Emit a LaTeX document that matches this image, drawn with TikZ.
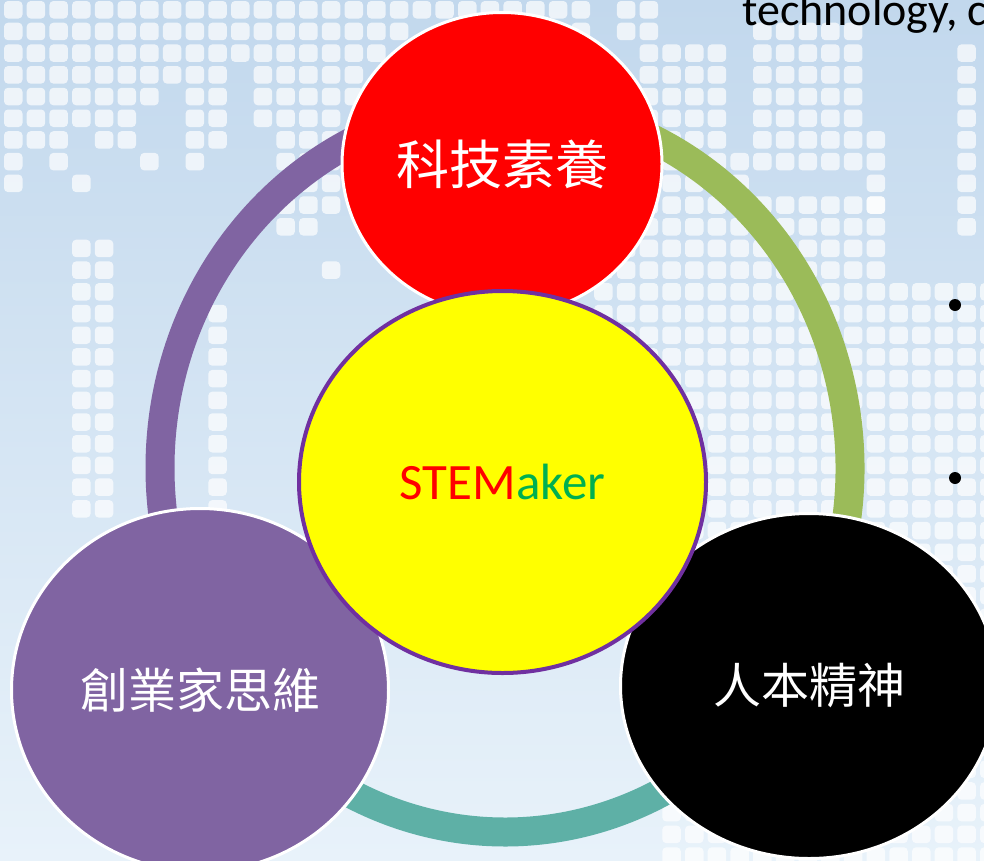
\documentclass[tikz,border=0pt]{standalone}
\usepackage{fontspec}
\setmainfont{Carlito}
\newfontfamily\cjk{Noto Sans CJK TC}
\usetikzlibrary{shapes.geometric}

\definecolor{bgtop}{RGB}{194,216,237}
\definecolor{bgbot}{RGB}{232,242,250}
\definecolor{ringpurple}{RGB}{128,100,162}
\definecolor{ringgreen}{RGB}{155,187,89}
\definecolor{ringteal}{RGB}{94,176,166}
\definecolor{corepurple}{RGB}{112,48,160}
\definecolor{coreyellow}{RGB}{255,255,0}
\definecolor{techred}{RGB}{255,0,0}
\definecolor{makergreen}{RGB}{0,176,80}

\tikzset{
  ledcell/.style={fill=white, fill opacity=0.7, rounded corners=4pt},
  ringarc/.style={line width=29pt},
  bubble/.style={ellipse, draw=white, line width=3pt, inner sep=0pt, text=white},
  core/.style={ellipse, draw=corepurple, line width=4pt, fill=coreyellow, inner sep=0pt},
  listdot/.style={circle, fill=black, inner sep=0pt, minimum size=12pt},
}

%% cols #1..#2, rows #3..#4 of the background grid
\newcommand\ledcells[4]{%
  \foreach \cx in {#1,...,#2}{
    \foreach \cy in {#3,...,#4}{
      \fill[ledcell] ({4+22.7*\cx},{1+21.7*\cy}) rectangle ++(18.5,17.5);
    }
  }%
}

\begin{document}
\begin{tikzpicture}[x=1pt,y=-1pt]
    \useasboundingbox (0,0) rectangle (984,860);
    \clip (0,0) rectangle (984,860);
    %% Background
    \shade[top color=bgtop, bottom color=bgbot] (0,0) rectangle (984,860);
    %% Squares, top left
    \foreach \c/\d in {0/8,1/6,2/7,3/5,4/6,5/6,6/4,7/3,8/7,9/6,10/2,11/5,12/10,
                       13/10,14/9,15/4,16/2,17/1,18/0,19/0,20/0,21/0,22/0,23/0,24/1,25/1}{
        \ledcells{\c}{\c}{0}{\d}
    }
    \ledcells{3}{3}{8}{8}
    \ledcells{6}{6}{7}{7}
    \ledcells{14}{14}{12}{12}
    \ledcells{3}{4}{11}{23}
    \ledcells{9}{9}{14}{23}
    %% Squares, right
    \ledcells{27}{28}{0}{1}
    \ledcells{28}{31}{2}{6}
    \ledcells{33}{37}{1}{7}
    \ledcells{38}{38}{6}{9}
    \ledcells{42}{42}{2}{10}
    \ledcells{26}{32}{7}{25}
    \ledcells{33}{38}{9}{25}
    \ledcells{39}{43}{13}{39}
    \ledcells{29}{38}{37}{39}

    %% Ring
    \coordinate (ringc) at (505,468);
    \draw[ringarc, ringpurple] (ringc) ++(-90:345 and 364)
        arc[start angle=-90, end angle=-215, x radius=345, y radius=364];
    \draw[ringarc, ringteal] (ringc) ++(145:345 and 364)
        arc[start angle=145, end angle=35, x radius=345, y radius=364];
    \draw[ringarc, ringgreen] (ringc) ++(35:345 and 364)
        arc[start angle=35, end angle=-90, x radius=345, y radius=364];

    %% Outer circles
    \node[bubble, fill=techred, minimum width=320pt, minimum height=303pt,
          font=\cjk\fontsize{53}{60}\selectfont] (tech) at (502,164) {科技素養};
    \node[bubble, fill=ringpurple, minimum width=377pt, minimum height=363pt,
          font=\cjk\fontsize{48}{56}\selectfont] (entre) at (200,690) {創業家思維};
    \node[bubble, fill=black, minimum width=377pt, minimum height=345pt,
          font=\cjk\fontsize{48}{56}\selectfont] (human) at (809,686) {人本精神};
    %% Centre
    \node[core, minimum width=407pt, minimum height=382pt,
          font=\fontsize{51}{60}\selectfont] (core) at (502.5,482)
          {\textcolor{techred}{STEM}\textcolor{makergreen}{aker}};

    %% Slide text behind
    \node[anchor=base west, inner sep=0pt, font=\fontsize{46}{55}\selectfont] (intro) at (742,25) {technology, c};
    \node[listdot] (dot1) at (955,305) {};
    \node[listdot] (dot2) at (955,478) {};
\end{tikzpicture}
\end{document}
